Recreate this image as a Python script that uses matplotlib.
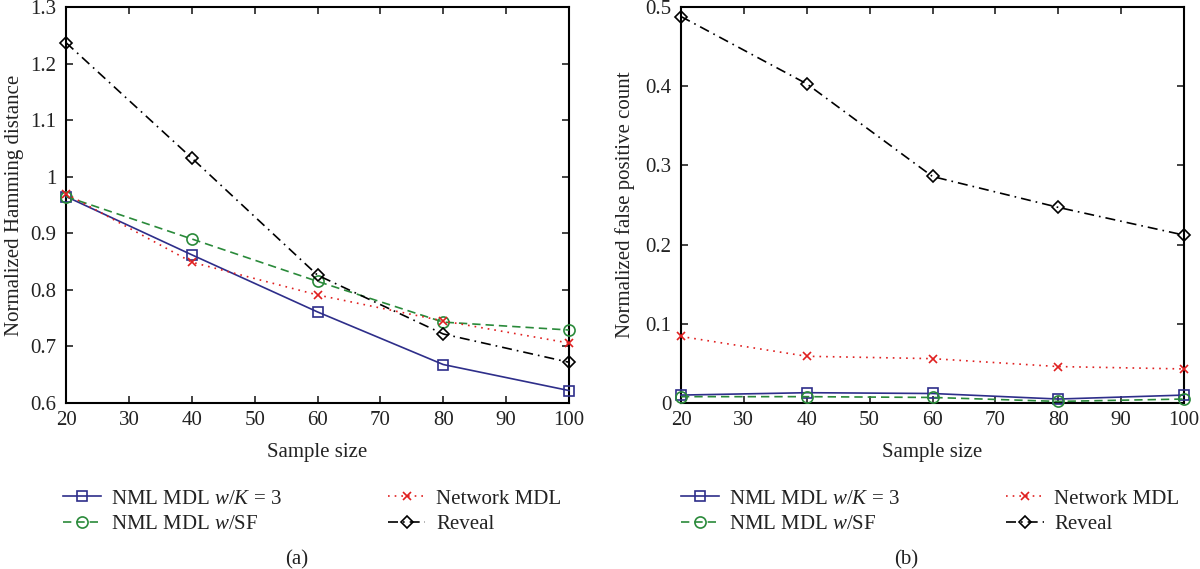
import matplotlib
matplotlib.use("Agg")
import matplotlib.pyplot as plt
from matplotlib.ticker import FuncFormatter, MultipleLocator

plt.rcParams['font.family'] = ['Liberation Serif', 'DejaVu Serif']
plt.rcParams['mathtext.fontset'] = 'custom'
plt.rcParams['mathtext.rm'] = 'Liberation Serif'
plt.rcParams['mathtext.it'] = 'Liberation Serif:italic'

sample_size = [20, 40, 60, 80, 100]

# (a) Normalized Hamming distance
ham_nml_k3 = [0.965, 0.862, 0.761, 0.668, 0.622]
ham_nml_sf = [0.965, 0.890, 0.815, 0.743, 0.729]
ham_network = [0.970, 0.849, 0.791, 0.745, 0.706]
ham_reveal = [1.237, 1.033, 0.826, 0.722, 0.672]

# (b) Normalized false positive count
fp_nml_k3 = [0.010, 0.013, 0.012, 0.005, 0.010]
fp_nml_sf = [0.008, 0.008, 0.007, 0.002, 0.005]
fp_network = [0.084, 0.059, 0.056, 0.046, 0.043]
fp_reveal = [0.488, 0.403, 0.286, 0.247, 0.212]

labels = ["NML MDL $w/K$ = 3", "NML MDL $w$/SF", "Network MDL", "Reveal"]
colors = ["#2e2e8a", "#2a8a3a", "#e02020", "#000000"]
styles = ["-", (0, (5, 3)), (0, (1, 3)), (0, (6, 3, 1, 3))]
markers = ["s", "o", "x", "D"]
msizes = [7.5, 8, 6, 6.5]

FS = 15

fig = plt.figure(figsize=(12, 5.69), dpi=100)
ax1 = fig.add_axes([66/1200, 1-403/569, 503/1200, 396/569])
ax2 = fig.add_axes([681/1200, 1-403/569, 503/1200, 396/569])

def draw(ax, series, ylim, ystep, ylabel, lx, tag, tx, leg_x1, leg_x2):
    handles = []
    for ys, c, ls, m, ms, lab in zip(series, colors, styles, markers, msizes, labels):
        h, = ax.plot(sample_size, ys, color=c, linestyle=ls, marker=m, markersize=ms,
                     markerfacecolor='none', markeredgecolor=c, markeredgewidth=1.2,
                     linewidth=1.2, label=lab, clip_on=False, zorder=3)
        handles.append(h)
    ax.set_xlim(20, 100)
    ax.set_ylim(*ylim)
    ax.xaxis.set_major_locator(MultipleLocator(10))
    ax.yaxis.set_major_locator(MultipleLocator(ystep))
    ax.yaxis.set_major_formatter(FuncFormatter(lambda v, p: "%g" % round(v, 3)))
    ax.tick_params(direction='in', top=True, right=True, length=5, width=1.2,
                   labelsize=FS, colors='#222222')
    ax.tick_params(axis='x', pad=6)
    ax.tick_params(axis='y', pad=7)
    for s in ax.spines.values():
        s.set_linewidth(1.5)
    ax.set_xlabel("Sample size", fontsize=FS, color='#222222')
    ax.xaxis.set_label_coords(0.5, (403-452)/396)
    ax.xaxis.label.set_va('center')
    ax.set_ylabel(ylabel, fontsize=FS, color='#222222')
    ax.yaxis.set_label_coords(lx, 0.5)
    ax.yaxis.label.set_va('center')
    y0 = 1 - 489/569
    kw = dict(loc='upper left', frameon=False, fontsize=FS, handlelength=1.8,
              handletextpad=0.5, borderpad=0, borderaxespad=0, labelspacing=0.3)
    leg1 = fig.legend(handles[:2], labels[:2], bbox_to_anchor=(leg_x1/1200, y0), **kw)
    leg2 = fig.legend(handles[2:], labels[2:], bbox_to_anchor=(leg_x2/1200, y0), **kw)
    for lg in (leg1, leg2):
        for t in lg.get_texts():
            t.set_color('#222222')
    fig.text(tx/1200, 1-560/569, tag, ha='center', va='center', fontsize=FS, color='#222222')

draw(ax1, [ham_nml_k3, ham_nml_sf, ham_network, ham_reveal], (0.6, 1.3), 0.1,
     "Normalized Hamming distance", (15-66)/503, "(a)", 297, 63, 388)
draw(ax2, [fp_nml_k3, fp_nml_sf, fp_network, fp_reveal], (0, 0.5), 0.1,
     "Normalized false positive count", (625-681)/503, "(b)", 906, 681, 1006)

fig.savefig("out.png", dpi=100)
